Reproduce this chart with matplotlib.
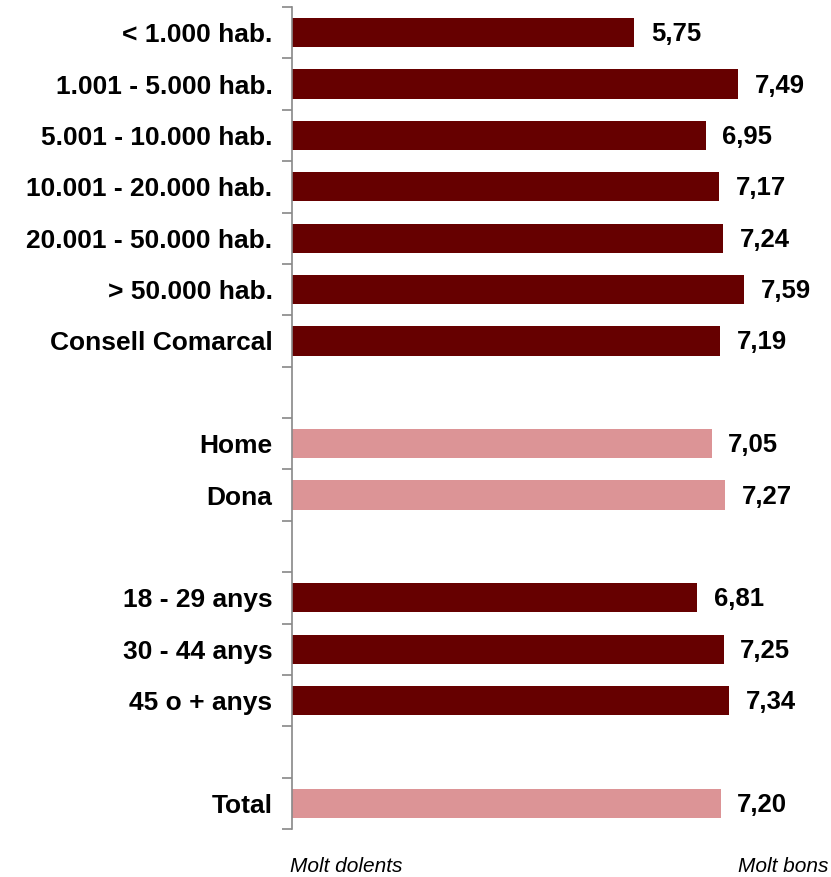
import matplotlib.pyplot as plt
import numpy as np

plt.rcParams['font.family'] = ['Liberation Sans', 'DejaVu Sans']

# rows top to bottom, None = empty gap row
labels = ["< 1.000 hab.", "1.001 - 5.000 hab.", "5.001 - 10.000 hab.",
          "10.001 - 20.000 hab.", "20.001 - 50.000 hab.", "> 50.000 hab.",
          "Consell Comarcal", "", "Home", "Dona", "",
          "18 - 29 anys", "30 - 44 anys", "45 o + anys", "", "Total"]
values = [5.75, 7.49, 6.95, 7.17, 7.24, 7.59, 7.19, None,
          7.05, 7.27, None, 6.81, 7.25, 7.34, None, 7.20]
groups = ["dark"] * 7 + [None] + ["light"] * 2 + [None] + ["dark"] * 3 + [None] + ["light"]

colors = {"dark": "#660000", "light": "#DC9496"}

fig = plt.figure(figsize=(8.31, 8.77), dpi=100)
ax = fig.add_axes([292 / 831, 1 - 829 / 877, (826 - 292) / 831, (829 - 7) / 877])

n = len(labels)
y = np.arange(n)
for yi, v, g in zip(y, values, groups):
    if v is None:
        continue
    ax.barh(yi, v, height=0.57, color=colors[g], left=0)
    ax.text(v + 0.28, yi + 0.03, f"{v:.2f}".replace(".", ","), va="center", ha="left",
            fontsize=18.5, fontweight="bold", color="black")

ax.set_xlim(0, 8.97)
ax.set_ylim(n - 0.5, -0.5)

ax.set_yticks(y)
ax.set_yticklabels(labels, fontsize=19, fontweight="bold")
ax.tick_params(axis="y", which="major", length=0, pad=14)
ax.set_yticks(np.arange(-0.5, n, 1.0), minor=True)
ax.tick_params(axis="y", which="minor", length=7, width=1.2, color="#888888")
ax.set_xticks([])

for s in ["top", "right", "bottom"]:
    ax.spines[s].set_visible(False)
ax.spines["left"].set_color("#888888")
ax.spines["left"].set_linewidth(1.2)

fig.text(290 / 831, 1 - 866 / 877, "Molt dolents", fontsize=15, style="italic",
         ha="left", va="center")
fig.text(828 / 831, 1 - 866 / 877, "Molt bons", fontsize=15, style="italic",
         ha="right", va="center")

fig.savefig("out.png", dpi=100)
